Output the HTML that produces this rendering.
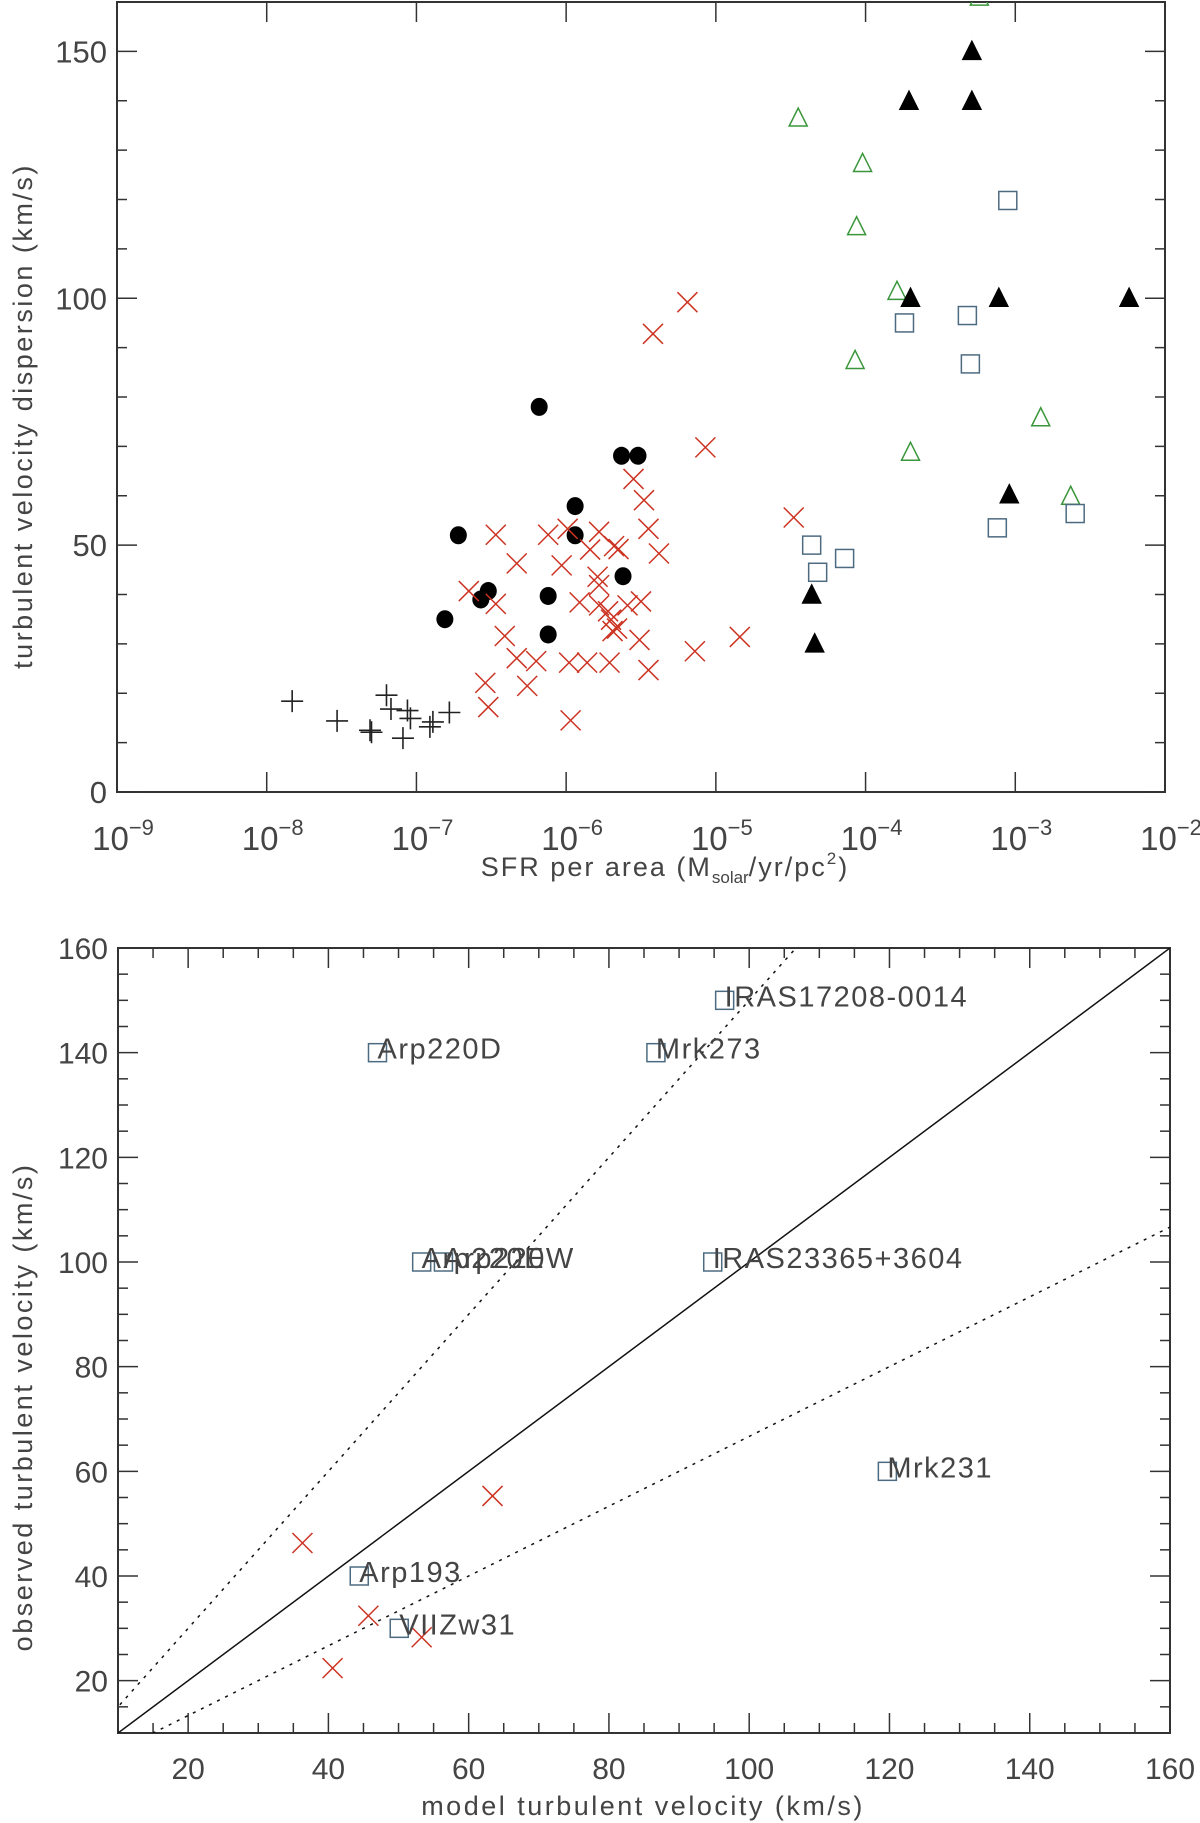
<!DOCTYPE html>
<html><head><meta charset="utf-8">
<style>
html,body{margin:0;padding:0;background:#fff;}
svg{display:block;}
text{font-family:"Liberation Sans",sans-serif;fill:#444;font-weight:normal;}
</style></head>
<body>
<svg id="chart" width="1200" height="1823" viewBox="0 0 1200 1823" xmlns="http://www.w3.org/2000/svg">
<g id="topPanel"></g>
<g id="botPanel"></g>
</svg>
<script>
// ---------- TOP PANEL DATA (log10 SFR per area, dispersion km/s) ----------
const plusLogX = [-7.83,-7.53,-7.31,-7.30,-7.20,-7.17,-7.09,-7.06,-7.04,-6.91,-6.89,-6.78];
const plusY    = [18.4,14.4,12.5,12.1,19.6,16.8,10.9,16.5,14.9,13.2,14.2,16.1];
const circLogX = [-6.81,-6.72,-6.57,-6.52,-6.18,-6.12,-6.12,-5.94,-5.94,-5.63,-5.52,-5.62];
const circY    = [35.0,52.0,39.0,40.7,78.0,39.7,31.9,57.9,52.0,68.1,68.1,43.7];
const crossLogX = [-5.19,-5.42,-5.07,-4.48,-5.55,-5.48,-5.45,-5.38,-6.47,-6.65,-6.47,-6.41,-6.33,-6.20,-6.33,-6.12,-6.03,-5.99,-5.98,-5.97,-5.91,-5.86,-5.78,-5.84,-5.79,-5.78,-5.78,-5.72,-5.70,-5.69,-5.66,-5.71,-5.68,-5.65,-5.59,-5.50,-5.51,-5.45,-5.14,-4.84,-6.54,-6.52,-6.26];
const crossY    = [99.2,92.8,69.8,55.6,63.4,59.1,53.3,48.3,52.1,40.7,38.1,31.6,27.1,26.5,46.3,52.1,45.9,53.3,26.2,14.5,38.4,26.2,52.7,49.1,43.6,41.9,37.8,36.6,34.9,32.6,33.1,26.2,49.8,49.2,37.8,38.6,30.8,24.7,28.5,31.4,22.1,17.2,21.5];
const openTriLogX = [-3.24,-4.45,-4.02,-4.06,-3.79,-4.07,-3.70,-2.83,-2.63];
const openTriY    = [161,136.5,127.3,114.5,101.4,87.4,68.8,75.8,59.9];
const fillTriLogX = [-3.29,-3.71,-3.29,-3.70,-3.11,-2.24,-3.04,-4.36,-4.34];
const fillTriY    = [150,139.9,139.9,100,100,100,60.2,39.9,30];
const sqLogX = [-3.05,-3.74,-3.32,-3.30,-3.12,-2.60,-4.36,-4.32,-4.14];
const sqY    = [119.8,95.0,96.5,86.7,53.5,56.4,50,44.5,47.3];
const topXTicks = [-9,-8,-7,-6,-5,-4,-3,-2];
const topYTicks = [0,50,100,150];

// ---------- BOTTOM PANEL DATA ----------
const galNames = ["IRAS17208-0014","Arp220D","Mrk273","Arp220E","Arp220W","IRAS23365+3604","Mrk231","Arp193","VIIZw31"];
const galModel = [96.5,47,86.7,53.3,56.4,94.8,119.7,44.4,50.1];
const galObs   = [150,140,140,100,100,100,60,40,30];
const xModel = [36.3,45.7,40.6,53.3,63.4];
const xObs   = [46.3,32.4,22.4,28.3,55.3];
const lineSlopes = [1, 1.5, 0.6667];
const botXTicks = [20,40,60,80,100,120,140,160];
const botYTicks = [20,40,60,80,100,120,140,160];

const NS="http://www.w3.org/2000/svg";
function mk(parent,tag,attrs,txt){const e=document.createElementNS(NS,tag);for(const k in attrs)e.setAttribute(k,attrs[k]);if(txt!==undefined)e.textContent=txt;parent.appendChild(e);return e;}

const RED="#cc3322", GREEN="#3a963a", BLUE="#4d6b80", AX="#333";

function plusMark(g,x,y){return mk(g,'path',{d:`M${x-11},${y}H${x+11}M${x},${y-11}V${y+11}`,stroke:'#222','stroke-width':1.6,fill:'none'});}
function crossMark(g,x,y,c){return mk(g,'path',{d:`M${x-10},${y-10}L${x+10},${y+10}M${x-10},${y+10}L${x+10},${y-10}`,stroke:c,'stroke-width':1.5,fill:'none'});}
function triMark(g,x,y,fill,stroke){return mk(g,'path',{d:`M${x},${y-10}L${x+9},${y+8}L${x-9},${y+8}Z`,fill:fill,stroke:stroke,'stroke-width':1.5});}
function sqMark(g,x,y){return mk(g,'rect',{x:x-9,y:y-9,width:18,height:18,fill:'none',stroke:BLUE,'stroke-width':1.5});}

// ---------- TOP ----------
const topG=document.getElementById('topPanel');
const T={l:117,r:1165,t:2,b:792};
const tx=v=>T.l+(v-(-9))/7*(T.r-T.l);
const ty=v=>T.b-(v/160)*(T.b-T.t);
const r1=mk(topG,'rect',{x:T.l,y:T.t,width:T.r-T.l,height:T.b-T.t,fill:'none',stroke:AX,'stroke-width':2});


for(const d of topXTicks){
  const x=tx(d);
  mk(topG,'line',{x1:x,y1:T.b,x2:x,y2:T.b-20,stroke:AX,'stroke-width':1.5});
  mk(topG,'line',{x1:x,y1:T.t,x2:x,y2:T.t+20,stroke:AX,'stroke-width':1.5});
  const t=mk(topG,'text',{x:x+6,y:T.b+58,'font-size':33,'text-anchor':'middle'});
  
  
  const a=document.createElementNS(NS,'tspan');a.textContent='10';t.appendChild(a);
  const b=document.createElementNS(NS,'tspan');b.setAttribute('dy','-15');b.setAttribute('font-size','22');b.textContent=(d<0?'\u2212':'')+Math.abs(d);t.appendChild(b);
}
for(let v=0;v<=160;v+=10){
  const y=ty(v),len=(v%50===0)?20:10;
  mk(topG,'line',{x1:T.l,y1:y,x2:T.l+len,y2:y,stroke:AX,'stroke-width':1.5});
  mk(topG,'line',{x1:T.r,y1:y,x2:T.r-len,y2:y,stroke:AX,'stroke-width':1.5});
}
for(const v of topYTicks){
  const t=mk(topG,'text',{x:T.l-10,y:ty(v)+11,'font-size':31,'text-anchor':'end'},String(v));
  
  
}
const yt=mk(topG,'text',{x:0,y:0,'font-size':27,'text-anchor':'middle','letter-spacing':'2.5',transform:'translate(32,416) rotate(-90)'},'turbulent velocity dispersion (km/s)');


const xt=mk(topG,'text',{x:665,y:876,'font-size':27,'text-anchor':'middle','letter-spacing':'2'});


{const s1=document.createElementNS(NS,'tspan');s1.textContent='SFR per area (M';xt.appendChild(s1);
const s2=document.createElementNS(NS,'tspan');s2.setAttribute('dy','7');s2.setAttribute('font-size','17');s2.setAttribute('letter-spacing','0');s2.textContent='solar';xt.appendChild(s2);
const s3=document.createElementNS(NS,'tspan');s3.setAttribute('dy','-7');s3.textContent='/yr/pc';xt.appendChild(s3);
const s4=document.createElementNS(NS,'tspan');s4.setAttribute('dy','-12');s4.setAttribute('font-size','17');s4.textContent='2';xt.appendChild(s4);
const s5=document.createElementNS(NS,'tspan');s5.setAttribute('dy','12');s5.textContent=')';xt.appendChild(s5);}

const clip=mk(topG,'clipPath',{id:'tc'});mk(clip,'rect',{x:T.l,y:T.t,width:T.r-T.l,height:T.b-T.t});
const pts=mk(topG,'g',{'clip-path':'url(#tc)'});
plusLogX.forEach((v,i)=>{const e=plusMark(pts,tx(v),ty(plusY[i]));
  
  });
circLogX.forEach((v,i)=>{const e=mk(pts,'ellipse',{cx:tx(v),cy:ty(circY[i]),rx:8.5,ry:9,fill:'#000'});
  
  });
crossLogX.forEach((v,i)=>{const e=crossMark(pts,tx(v),ty(crossY[i]),RED);
  
  });
openTriLogX.forEach((v,i)=>{const e=triMark(pts,tx(v),ty(openTriY[i]),'none',GREEN);
  
  });
fillTriLogX.forEach((v,i)=>{const e=triMark(pts,tx(v),ty(fillTriY[i]),'#000','#000');
  
  });
sqLogX.forEach((v,i)=>{const e=sqMark(pts,tx(v),ty(sqY[i]));
  
  });

// ---------- BOTTOM ----------
const botG=document.getElementById('botPanel');
const B={l:118,r:1170,t:948,b:1733};
const bx=v=>B.l+(v-10)/150*(B.r-B.l);
const by=v=>B.b-(v-10)/150*(B.b-B.t);
const r2=mk(botG,'rect',{x:B.l,y:B.t,width:B.r-B.l,height:B.b-B.t,fill:'none',stroke:AX,'stroke-width':2});


for(let v=10;v<=160;v+=5){
  const len=(v%20===0)?20:10;
  const x=bx(v),y=by(v);
  mk(botG,'line',{x1:x,y1:B.b,x2:x,y2:B.b-len,stroke:AX,'stroke-width':1.5});
  mk(botG,'line',{x1:x,y1:B.t,x2:x,y2:B.t+len,stroke:AX,'stroke-width':1.5});
  mk(botG,'line',{x1:B.l,y1:y,x2:B.l+len,y2:y,stroke:AX,'stroke-width':1.5});
  mk(botG,'line',{x1:B.r,y1:y,x2:B.r-len,y2:y,stroke:AX,'stroke-width':1.5});
}
for(const v of botXTicks){const t=mk(botG,'text',{x:bx(v),y:B.b+46,'font-size':30,'text-anchor':'middle'},String(v));
  
  }
for(const v of botYTicks){const t=mk(botG,'text',{x:B.l-10,y:by(v)+11,'font-size':30,'text-anchor':'end'},String(v));
  
  }
const yt2=mk(botG,'text',{x:0,y:0,'font-size':27,'text-anchor':'middle','letter-spacing':'2.5',transform:'translate(32,1407) rotate(-90)'},'observed turbulent velocity (km/s)');


const xt2=mk(botG,'text',{x:643,y:1815,'font-size':27,'text-anchor':'middle','letter-spacing':'2.5'},'model turbulent velocity (km/s)');



const clip2=mk(botG,'clipPath',{id:'bc'});mk(clip2,'rect',{x:B.l,y:B.t,width:B.r-B.l,height:B.b-B.t});
const lg=mk(botG,'g',{'clip-path':'url(#bc)'});
lineSlopes.forEach((s,i)=>{
  const e=mk(lg,'line',{x1:bx(0),y1:by(0),x2:bx(200),y2:by(200*s),stroke:'#111','stroke-width':1.5,'stroke-dasharray':i===0?'none':'3,6'});
  
  
});
galNames.forEach((n,i)=>{
  const x=bx(galModel[i]),y=by(galObs[i]);
  const e=sqMark(lg,x,y);
  
  
  const t=mk(botG,'text',{x:x,y:y+6,'font-size':29,'letter-spacing':'1.5'},n);
  
  
});
xModel.forEach((v,i)=>{const e=crossMark(lg,bx(v),by(xObs[i]),RED);
  
  });
</script>
</body></html>
